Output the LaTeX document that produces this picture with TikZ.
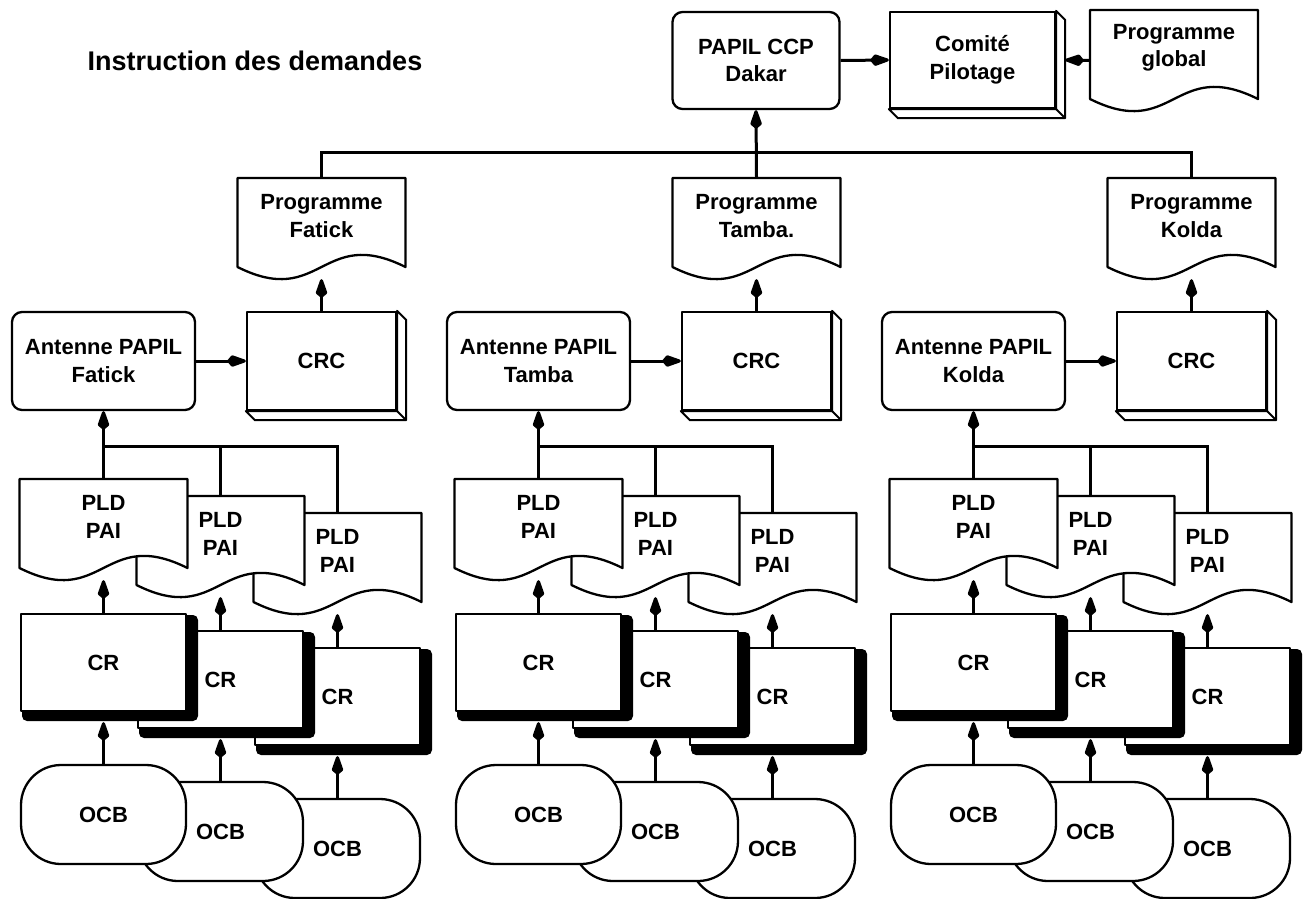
\documentclass[tikz,border=0pt]{standalone}
\usepackage{fontspec}
\setmainfont{Liberation Sans}
\usetikzlibrary{arrows.meta}
\newcommand\boxfont{\bfseries\fontsize{22}{27.5}\selectfont}
% document-shaped node: name, left, top, text
\newcommand\mydoc[4]{%
  \filldraw[shapeline] (#2,#3) -- (#2+168,#3) -- (#2+168,#3+89)
    .. controls (#2+84,#3+47) and (#2+84,#3+131) .. (#2,#3+89) -- cycle;
  \node[docframe, label={[doctext]center:{#4}}] (#1) at (#2+84,#3+50.5) {};
}
% CR box with heavy shadow: name, left, top
\newcommand\crnode[3]{%
  \fill[black, rounded corners=5pt] (#2+1,#3+1) rectangle (#2+177,#3+107);
  \node[crbox] (#1) at (#2+82.5,#3+48.5) {CR};
}
% thin 3D depth for a box node
\newcommand\depthof[1]{%
  \filldraw[depthline] (#1.north east) -- ([shift={(9,9)}]#1.north east)
    -- ([shift={(9,9)}]#1.south east) -- ([shift={(9,9)}]#1.south west)
    -- (#1.south west) -- (#1.south east) -- cycle;
  \draw[depthline] (#1.south east) -- ([shift={(9,9)}]#1.south east);
}
\begin{document}
\begin{tikzpicture}[x=1pt,y=-1pt,
  every node/.style={font=\boxfont, text=black},
  shapeline/.style={line width=2.3pt, draw=black, fill=white, line join=round},
  depthline/.style={line width=2pt, draw=black, fill=white, line join=round},
  rbox/.style={shapeline, rectangle, rounded corners=10pt, inner sep=0pt, align=center},
  sqbox/.style={shapeline, rectangle, inner sep=0pt, align=center},
  crbox/.style={sqbox, minimum width=165pt, minimum height=97pt},
  ocbbox/.style={shapeline, rectangle, rounded corners=40pt, minimum width=165pt, minimum height=99pt, inner sep=0pt},
  docframe/.style={rectangle, inner sep=0pt, minimum width=168pt, minimum height=101pt},
  doctext/.style={align=center, yshift=12.5pt, inner sep=0pt},
  wire/.style={line width=3pt},
  conn/.style={wire, -{Kite[length=22pt,width=12pt,inset=5pt,round]}},
  titletext/.style={font=\bfseries\fontsize{27}{31}\selectfont}
]
\useasboundingbox (0,0) rectangle (1306,898);

\node[titletext] (title) at (255,61) {Instruction des demandes};

% top row
\node[rbox, minimum width=167pt, minimum height=97pt] (papil) at (756,60.5) {PAPIL CCP\\Dakar};
\node[sqbox, minimum width=165pt, minimum height=96pt] (comite) at (972.5,60) {Comité\\Pilotage};
\depthof{comite}
\mydoc{prG}{1090}{10}{Programme\\global}

\foreach \dx/\nm/\ant/\prog in {0/F/Fatick/Fatick, 435/T/Tamba/Tamba., 870/K/Kolda/Kolda}{
  \node[rbox, minimum width=183pt, minimum height=98pt] (ant\nm) at (103.5+\dx,361) {Antenne PAPIL\\\ant};
  \node[sqbox, minimum width=149pt, minimum height=98pt] (crc\nm) at (321.5+\dx,361) {CRC};
  \depthof{crc\nm}
  \mydoc{pr\nm}{237.5+\dx}{178}{Programme\\\prog}
  \mydoc{pldC\nm}{253.5+\dx}{513}{PLD\\PAI}
  \mydoc{pldB\nm}{136.5+\dx}{496}{PLD\\PAI}
  \mydoc{pldA\nm}{19.5+\dx}{479}{PLD\\PAI}
  \crnode{crC\nm}{255+\dx}{648}
  \crnode{crB\nm}{138+\dx}{631}
  \crnode{crA\nm}{21+\dx}{614}
  \node[ocbbox] (ocbC\nm) at (337.5+\dx,848.5) {OCB};
  \node[ocbbox] (ocbB\nm) at (220.5+\dx,831.5) {OCB};
  \node[ocbbox] (ocbA\nm) at (103.5+\dx,814.5) {OCB};
  % connectors
  \draw[wire] (pldA\nm.north) -- ++(0,-32) coordinate (j\nm) -| (pldC\nm.north);
  \draw[wire] (pldB\nm.north) |- (j\nm);
  \draw[conn] (j\nm) -- (ant\nm.south);
  \draw[conn] (ant\nm.east) -- (crc\nm.west);
  \draw[conn] (crc\nm.north) -- (pr\nm.south);
  \foreach \i in {A,B,C}{
    \draw[conn] (cr\i\nm.north) -- (pld\i\nm.south);
    \draw[conn] (ocb\i\nm.north) -- ([yshift=-10pt]cr\i\nm.south);
  }
}

\draw[wire] (prF.north) -- ++(0,-25) -| (prK.north);
\draw[conn] (prT.north) -- (papil.south);
\draw[conn] (papil.east) -- (comite.west);
\draw[conn] (prG.west) -- ([xshift=9pt]comite.east);
\end{tikzpicture}
\end{document}
